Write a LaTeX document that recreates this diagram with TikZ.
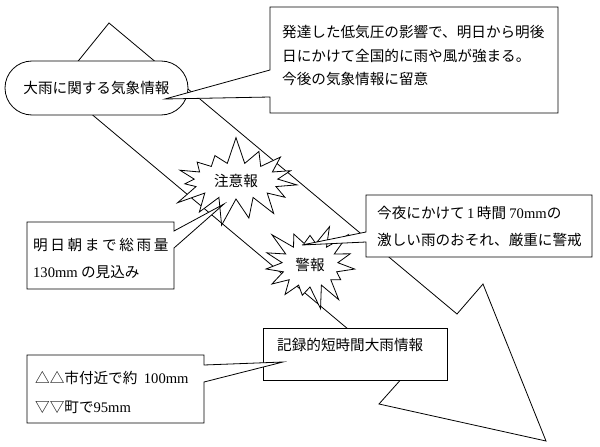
\documentclass[tikz,border=0pt]{standalone}
\usepackage{fontspec}
\setmainfont{Noto Sans CJK JP}
\newfontfamily\latinnum{Liberation Serif}
\usetikzlibrary{calc,shapes.symbols,shapes.misc}
\tikzset{
  big arrow/.style={draw=black,line width=0.8pt,line join=miter},
  callout line/.style={draw=black,fill=white,line width=0.8pt,line join=miter},
  callout frame/.style={inner sep=0pt,outer sep=0pt,anchor=north west},
  callout text/.style={anchor=west,inner sep=0pt,align=left,font=\fontsize{14.6pt}{23.5pt}\selectfont},
  info pill/.style={rounded rectangle,draw=black,fill=white,line width=0.8pt,inner sep=0pt,
    minimum width=183pt,minimum height=54pt,font=\fontsize{14.6pt}{17pt}\selectfont},
  warn burst/.style={starburst,draw=black,fill=white,line width=0.8pt,inner sep=0pt,
    starburst points=15,font=\fontsize{14.6pt}{17pt}\selectfont}
}
\begin{document}
\begin{tikzpicture}[x=1pt,y=-1pt]
\useasboundingbox (0,0) rectangle (600,447);
% ---- the big arrow ----
\draw[big arrow] (109,23) -- (457,314) -- (483,284) -- (546,441) -- (379,404) -- (404,376) -- (58,86) -- cycle;
% ---- heavy rain information ----
\node[info pill] (ooame) at (96.5,88) {大雨に関する気象情報};
\node[callout frame,minimum width=288pt,minimum height=106pt] (kisho) at (270,7) {};
\coordinate (kishotip) at (165,99);
\draw[callout line] (kisho.north west) -- (kisho.north east) -- (kisho.south east) -- (kisho.south west)
  -- ($(kisho.north west)+(0,90)$) -- (kishotip) -- ($(kisho.north west)+(0,63)$) -- cycle;
\node[callout text] (kishotext) at (282,55.5)
  {発達した低気圧の影響で、明日から明後\\日にかけて全国的に雨や風が強まる。\\今後の気象情報に留意};
% ---- advisory ----
\node[warn burst,random starburst=7,starburst point height=28pt,
  minimum width=140pt,minimum height=92pt] (chuiho) at (236,181) {注意報};
\node[callout frame,minimum width=147pt,minimum height=67pt] (soryo) at (27,222) {};
\coordinate (soryotip) at (224,204);
\draw[callout line] (soryo.north west) -- (soryo.north east) -- ($(soryo.north east)+(0,9)$) -- (soryotip)
  -- ($(soryo.north east)+(0,26)$) -- (soryo.south east) -- (soryo.south west) -- cycle;
\node[callout text,font=\fontsize{14.6pt}{27pt}\selectfont] (soryotext) at (33,258.5)
  {{\addfontfeatures{LetterSpace=18}明日朝まで総雨量}\\{\latinnum 130mm} の見込み};
% ---- warning ----
\node[warn burst,random starburst=3,starburst point height=24pt,
  minimum width=104pt,minimum height=92pt] (keiho) at (310,265) {警報};
\node[callout frame,minimum width=226pt,minimum height=62pt] (keikai) at (366,195) {};
\coordinate (keikaitip) at (302,245);
\draw[callout line] (keikai.north west) -- (keikai.north east) -- (keikai.south east) -- (keikai.south west)
  -- ($(keikai.north west)+(0,47)$) -- (keikaitip) -- ($(keikai.north west)+(0,37)$) -- cycle;
\node[callout text,font=\fontsize{14.6pt}{27pt}\selectfont] (keikaitext) at (377,226.5)
  {今夜にかけて\,{\latinnum 1}\,時間 {\latinnum 70mm}の\\激しい雨のおそれ、厳重に警戒};
% ---- record short-time heavy rain ----
\node[callout frame,minimum width=184pt,minimum height=52pt] (kiroku) at (263,328) {};
\draw[callout line] (kiroku.north west) rectangle (kiroku.south east);
\node[callout text] (kirokutext) at (277,345) {記録的短時間大雨情報};
\node[callout frame,minimum width=177pt,minimum height=68pt] (shichou) at (27,355) {};
\coordinate (shichoutip) at (283,362);
\draw[callout line] (shichou.north west) -- (shichou.north east) -- ($(shichou.north east)+(0,10)$) -- (shichoutip)
  -- ($(shichou.north east)+(0,27)$) -- (shichou.south east) -- (shichou.south west) -- cycle;
\node[callout text,font=\fontsize{14.6pt}{29pt}\selectfont] (shichoutext) at (35,392.5)
  {△△市付近で約\ \ {\latinnum 100mm}\\▽▽町で{\latinnum 95mm}};
\end{tikzpicture}
\end{document}
